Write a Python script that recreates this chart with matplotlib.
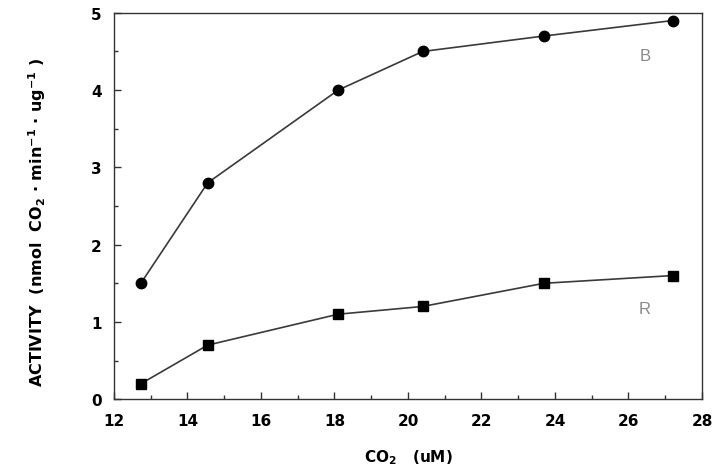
import matplotlib
matplotlib.use("Agg")
import matplotlib.pyplot as plt
from matplotlib.ticker import MultipleLocator

plt.rcParams['font.family'] = ['DejaVu Sans']
plt.rcParams['mathtext.fontset'] = 'custom'
plt.rcParams['mathtext.rm'] = 'DejaVu Sans:bold'
plt.rcParams['mathtext.it'] = 'DejaVu Sans:bold'
plt.rcParams['mathtext.bf'] = 'DejaVu Sans:bold'
plt.rcParams['mathtext.default'] = 'rm'

co2 = [12.73, 14.55, 18.1, 20.4, 23.7, 27.2]
series_B = [1.5, 2.8, 4.0, 4.5, 4.7, 4.9]
series_R = [0.2, 0.7, 1.1, 1.2, 1.5, 1.6]
xticks = [12, 14, 16, 18, 20, 22, 24, 26, 28]
yticks = [0, 1, 2, 3, 4, 5]

fig = plt.figure(figsize=(7.17, 4.77), dpi=100)
ax = fig.add_axes([0.159, 0.161, 0.820, 0.810])

ax.plot(co2, series_B, color='#3a3a3a', lw=1.2, marker='o', ms=7.5,
        mfc='black', mec='black')
ax.plot(co2, series_R, color='#3a3a3a', lw=1.2, marker='s', ms=7.5,
        mfc='black', mec='black')

ax.set_xlim(12, 28)
ax.set_ylim(0, 5)
ax.set_xticks(xticks)
ax.set_yticks(yticks)
ax.xaxis.set_minor_locator(MultipleLocator(1))
ax.yaxis.set_minor_locator(MultipleLocator(0.5))
ax.tick_params(which='both', direction='in', color='#333333', width=1)
ax.tick_params(which='major', length=5)
ax.tick_params(which='minor', length=3)
ax.tick_params(axis='x', pad=10)
ax.tick_params(axis='y', pad=9)
for lab in ax.get_xticklabels() + ax.get_yticklabels():
    lab.set_fontweight('bold')
    lab.set_fontsize(11)
for s in ax.spines.values():
    s.set_color('#333333')
    s.set_linewidth(1)

ax.text(26.45, 4.45, 'B', fontsize=12, color='#888888', ha='center', va='center',
        family='Liberation Sans')
ax.text(26.45, 1.17, 'R', fontsize=12, color='#888888', ha='center', va='center',
        family='Liberation Sans')

ax.set_xlabel('CO$_2$   (uM)', fontsize=11, fontweight='bold', labelpad=14)
ax.set_ylabel('ACTIVITY  (nmol  CO$_2$ · min$^{-1}$ · ug$^{-1}$ )',
              fontsize=11.5, fontweight='bold')
ax.yaxis.set_label_coords(-0.112, 0.46)

fig.savefig('out.png', dpi=100)
